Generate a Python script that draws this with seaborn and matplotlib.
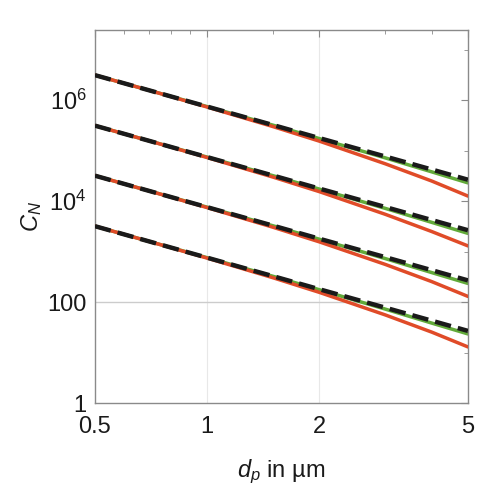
import numpy as np
import pandas as pd
import matplotlib
matplotlib.use('Agg')
import matplotlib.pyplot as plt
import seaborn as sns
from matplotlib.ticker import FixedLocator, NullFormatter

# particle diameter in um
dp = [0.5, 0.7, 1.0, 1.5, 2.0, 3.0, 4.0, 5.0]

# four groups, each with green / red / black dashed curve
green_1 = [3.13e6, 1.56e6, 7.45e5, 3.20e5, 1.73e5, 7.20e4, 3.80e4, 2.30e4]
red_1   = [3.13e6, 1.56e6, 7.30e5, 3.00e5, 1.54e5, 5.50e4, 2.50e4, 1.26e4]
black_1 = [3.13e6, 1.56e6, 7.45e5, 3.22e5, 1.77e5, 7.67e4, 4.23e4, 2.66e4]

green_2 = [3.13e5, 1.56e5, 7.45e4, 3.20e4, 1.73e4, 7.20e3, 3.80e3, 2.30e3]
red_2   = [3.13e5, 1.56e5, 7.30e4, 3.00e4, 1.54e4, 5.50e3, 2.50e3, 1.30e3]
black_2 = [3.13e5, 1.56e5, 7.45e4, 3.22e4, 1.77e4, 7.67e3, 4.23e3, 2.66e3]

green_3 = [3.20e4, 1.59e4, 7.60e3, 3.26e3, 1.76e3, 7.30e2, 3.85e2, 2.35e2]
red_3   = [3.20e4, 1.59e4, 7.45e3, 3.05e3, 1.56e3, 5.60e2, 2.55e2, 1.30e2]
black_3 = [3.20e4, 1.59e4, 7.60e3, 3.28e3, 1.80e3, 7.80e2, 4.30e2, 2.70e2]

green_4 = [3.20e3, 1.59e3, 7.60e2, 3.26e2, 1.76e2, 7.30e1, 3.85e1, 2.35e1]
red_4   = [3.20e3, 1.59e3, 7.45e2, 3.05e2, 1.56e2, 5.60e1, 2.55e1, 1.30e1]
black_4 = [3.20e3, 1.59e3, 7.60e2, 3.28e2, 1.80e2, 7.80e1, 4.30e1, 2.70e1]

series = {
    ('green', 1): green_1, ('red', 1): red_1, ('black', 1): black_1,
    ('green', 2): green_2, ('red', 2): red_2, ('black', 2): black_2,
    ('green', 3): green_3, ('red', 3): red_3, ('black', 3): black_3,
    ('green', 4): green_4, ('red', 4): red_4, ('black', 4): black_4,
}

rows = []
for (model, grp), vals in series.items():
    for x, y in zip(dp, vals):
        rows.append({'dp': x, 'CN': y, 'model': model, 'group': grp})
df = pd.DataFrame(rows)

sns.set_style('white')
plt.rcParams['font.family'] = ['Liberation Sans', 'DejaVu Sans']
plt.rcParams['mathtext.fontset'] = 'custom'
plt.rcParams['mathtext.rm'] = 'Liberation Sans'
plt.rcParams['mathtext.it'] = 'Liberation Sans:italic'

fig = plt.figure(figsize=(4.89, 4.99), dpi=100)
ax = fig.add_axes([0.194, 0.192, 0.763, 0.748])

ax.set_xscale('log')
ax.set_yscale('log')

palette = {'green': '#62AA3A', 'red': '#E04B28', 'black': '#1A1A1A'}
widths = {'green': 2.5, 'red': 2.5, 'black': 3.2}
for model in ['green', 'red', 'black']:
    sub = df[df['model'] == model]
    sns.lineplot(data=sub, x='dp', y='CN', units='group', estimator=None,
                 color=palette[model], linewidth=widths[model], ax=ax,
                 legend=False, zorder={'green': 2, 'red': 3, 'black': 4}[model],
                 linestyle='--' if model == 'black' else '-',
                 dashes=(3.3, 1.7) if model == 'black' else (None, None))

ax.set_xlim(0.5, 5)
ax.set_ylim(1, 10 ** 7.39)

ax.xaxis.set_major_locator(FixedLocator([0.5, 1, 2, 5]))
ax.set_xticklabels(['0.5', '1', '2', '5'])
ax.xaxis.set_minor_locator(FixedLocator([0.6, 0.7, 0.8, 0.9, 1.5, 3, 4]))
ax.xaxis.set_minor_formatter(NullFormatter())

ax.yaxis.set_major_locator(FixedLocator([1, 1e2, 1e4, 1e6]))
ax.set_yticklabels(['1', '100', '$10^4$', '$10^6$'])
ax.yaxis.set_minor_locator(FixedLocator([10, 1e3, 1e5, 1e7]))
ax.yaxis.set_minor_formatter(NullFormatter())

for x in [1, 2]:
    ax.axvline(x, color='#e8e8e8', linewidth=0.8, zorder=0)
ax.axhline(100, color='#cccccc', linewidth=1.0, zorder=0)

for s in ax.spines.values():
    s.set_color('#8a8a8a')
    s.set_linewidth(1.0)
ax.tick_params(which='both', direction='in', top=True, right=True,
               color='#8a8a8a', labelsize=17, labelcolor='#1a1a1a')
ax.tick_params(axis='x', pad=9)
ax.tick_params(axis='y', pad=6)
ax.tick_params(which='major', length=5)
ax.tick_params(which='minor', length=3)

ax.set_xlabel('$d_p$ in µm', fontsize=17, labelpad=14, color='#1a1a1a')
ax.set_ylabel('$C_N$', fontsize=17, labelpad=2, color='#1a1a1a')

fig.savefig('out.png', dpi=100)
